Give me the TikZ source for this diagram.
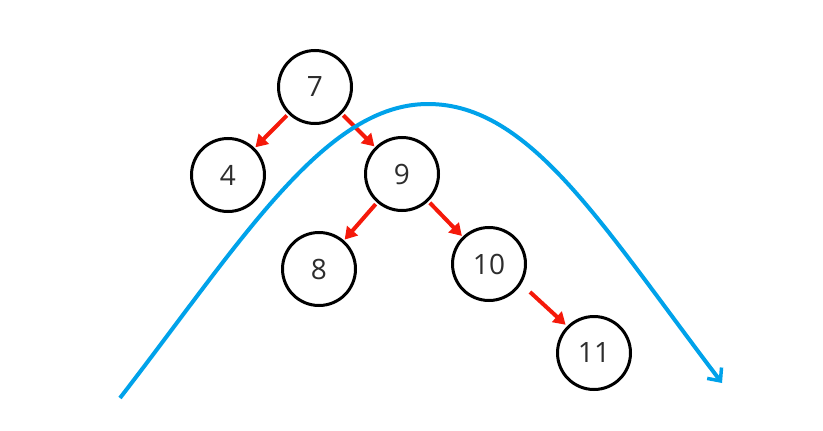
\documentclass[tikz,border=0pt]{standalone}
\usepackage{fontspec}
\setmainfont{Open Sans}
\usetikzlibrary{arrows.meta}
\definecolor{skyblue}{RGB}{0,162,234}
\definecolor{arrowred}{RGB}{245,25,10}
\definecolor{digit}{RGB}{45,45,45}
\begin{document}
\begin{tikzpicture}[x=1pt,y=-1pt,
  treenode/.style={circle,draw=black,line width=3pt,minimum size=73pt,inner sep=0pt,
    font=\fontsize{28}{30}\selectfont,text=digit},
  edge/.style={draw=arrowred,line width=4pt,shorten <=2pt,shorten >=1pt,
    -{Triangle[length=12pt,width=14pt]}},
  sweep/.style={draw=skyblue,line width=4pt,
    -{Straight Barb[length=10pt,width=18pt,line width=3.5pt]}}]
\useasboundingbox (0,0) rectangle (823,431);
\node[treenode] (n7)  at (315,87)  {7};
\node[treenode] (n4)  at (228,175) {4};
\node[treenode] (n9)  at (402,174) {9};
\node[treenode] (n8)  at (319,269) {8};
\node[treenode] (n10) at (489,264) {10};
\node[treenode] (n11) at (594,353) {11};
\draw[edge] (n7) -- (n4);
\draw[edge] (n7) -- (n9);
\draw[edge] (n9) -- (n8);
\draw[edge] (n9) -- (n10);
\coordinate (s10) at ([shift={(41,28)}]n10.center);
\draw[edge,shorten <=0pt,shorten >=2pt] (s10) -- (n11.135);
\coordinate (cs) at (120,398);
\coordinate (cp) at (428,104);
\coordinate (ce) at (722,383);
\draw[sweep] (cs) .. controls (242,240) and (325,104) .. (cp)
  .. controls (530,104) and (601,224) .. (ce);
\end{tikzpicture}
\end{document}
